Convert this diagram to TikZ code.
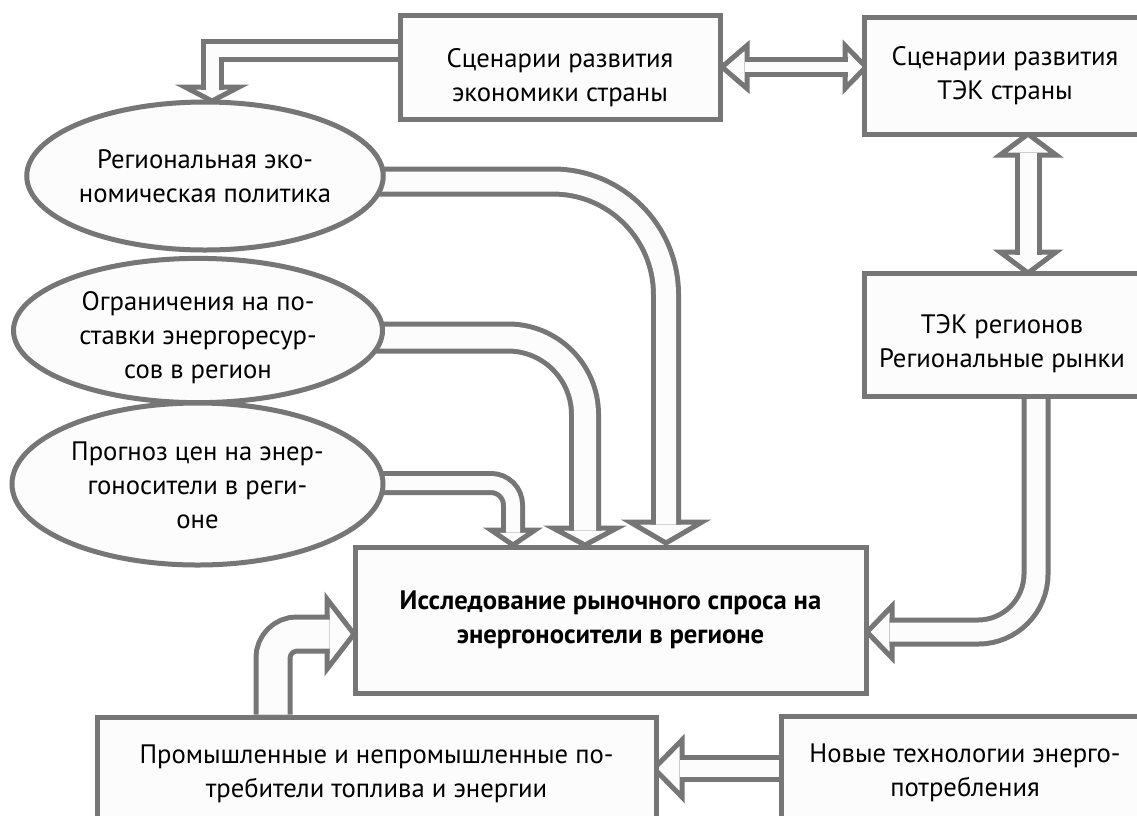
\documentclass[tikz,border=0pt]{standalone}
\usepackage{fontspec}
\setmainfont{PT Sans}
\usetikzlibrary{shapes.geometric,calc}
\pgfdeclarelayer{bg}
\pgfsetlayers{bg,main}
\definecolor{gr}{RGB}{118,118,118}
\definecolor{fl}{RGB}{252,252,252}
\newcommand\arrV[4]{\draw[headst] (#1-#4,#2) -- (#1,#3) -- (#1+#4,#2) -- cycle;}
\newcommand\arrH[4]{\draw[headst] (#2,#1-#4) -- (#3,#1) -- (#2,#1+#4) -- cycle;}
\newcommand\lowertxt[2]{\raisebox{-#1}[\height][\depth]{\begin{tabular}{@{}c@{}}#2\end{tabular}}}
\begin{document}
\begin{tikzpicture}[x=0.75pt,y=-0.75pt,
  txt/.style={align=center,font=\fontsize{20}{25.5}\selectfont},
  box/.style={txt,draw=gr,fill=fl,line width=3.75pt,rectangle,inner sep=0pt},
  ell/.style={txt,draw=gr,fill=fl,line width=3.75pt,ellipse,inner sep=0pt},
  headst/.style={draw=gr,fill=fl,line width=3.75pt,line join=miter},
  shaft/.style={draw=gr,line width=3.75pt,double=fl}]
\useasboundingbox (0,0) rectangle (1137,815);
% boxes
\node[box,minimum width=240pt,minimum height=78pt] (A) at (560,67.5) {\lowertxt{7.5pt}{Сценарии развития\\экономики страны}};
\node[box,minimum width=211.5pt,minimum height=87.75pt] (B) at (1005,75.5) {Сценарии развития\\ТЭК страны};
\node[box,minimum width=207pt,minimum height=92.25pt] (C) at (1002,334.5) {\lowertxt{6.75pt}{ТЭК регионов\\Региональные рынки}};
\node[box,minimum width=383.25pt,minimum height=109.5pt,font=\fontsize{20}{25.5}\selectfont\bfseries] (D) at (610.5,620) {Исследование рыночного спроса на\\энергоносители в регионе};
\node[box,minimum width=419.25pt,minimum height=84.75pt] (E) at (376.5,773.5) {Промышленные и непромышленные по-\\требители топлива и энергии};
\node[box,minimum width=276pt,minimum height=85.5pt] (F) at (965,773) {Новые технологии энерго-\\потребления};
% ellipses
\node[ell,minimum width=267pt,minimum height=111pt] (E1) at (205,176) {Региональная эко-\\номическая политика};
\node[ell,minimum width=276.75pt,minimum height=107.25pt] (E2) at (198,330.5) {\lowertxt{5.25pt}{Ограничения на по-\\ставки энергоресур-\\сов в регион}};
\node[ell,minimum width=278.25pt,minimum height=121.5pt] (E3) at (197.5,484) {\lowertxt{3pt}{Прогноз цен на энер-\\гоносители в реги-\\оне}};
\begin{pgfonlayer}{bg}
\fill[white] (0,0) rectangle (1137,815);
% arrow heads
\arrV{212}{87}{101}{27}
\arrH{67}{747}{722}{21.5}
\arrH{67}{845}{866}{21.5}
\arrV{1028}{155}{134}{28}
\arrV{1028}{252}{273}{28}
\arrH{632}{892}{867}{26}
\arrV{666}{522}{543}{36}
\arrV{585}{528}{545}{32}
\arrV{513}{530}{545}{22}
\arrH{634}{327}{354}{35}
\arrH{768.5}{682}{654}{28.5}
% shafts
\draw[shaft,double distance=9.75pt] ($(A.west)+(2,-17.5)$) -| (212,89.5);
\draw[shaft,double distance=7.5pt] (744.5,67) -- (847.5,67);
\draw[shaft,double distance=12.75pt] (1028,152.5) -- (1028,254.5);
\draw[shaft,double distance=14.25pt,rounded corners=43.5pt] ($(C.south)+(34,0)$) |- (889.5,632);
\draw[shaft,double distance=15pt,rounded corners=84.75pt] ($(E1.east)+(-18,5.5)$) -| (666,524.5);
\draw[shaft,double distance=16.5pt,rounded corners=57.75pt] ($(E2.east)+(-18,7)$) -| (585,530.5);
\draw[shaft,double distance=10.5pt,rounded corners=16.5pt] ($(E3.east)+(-18,-1)$) -| (513,532.5);
\draw[shaft,double distance=21.75pt,rounded corners=18pt] ($(E.north)+(-103.5,0)$) |- (329.5,634);
\draw[shaft,double distance=12.75pt] ($(F.west)+(0,-4.5)$) -- (679.5,768.5);
\end{pgfonlayer}
\end{tikzpicture}
\end{document}
